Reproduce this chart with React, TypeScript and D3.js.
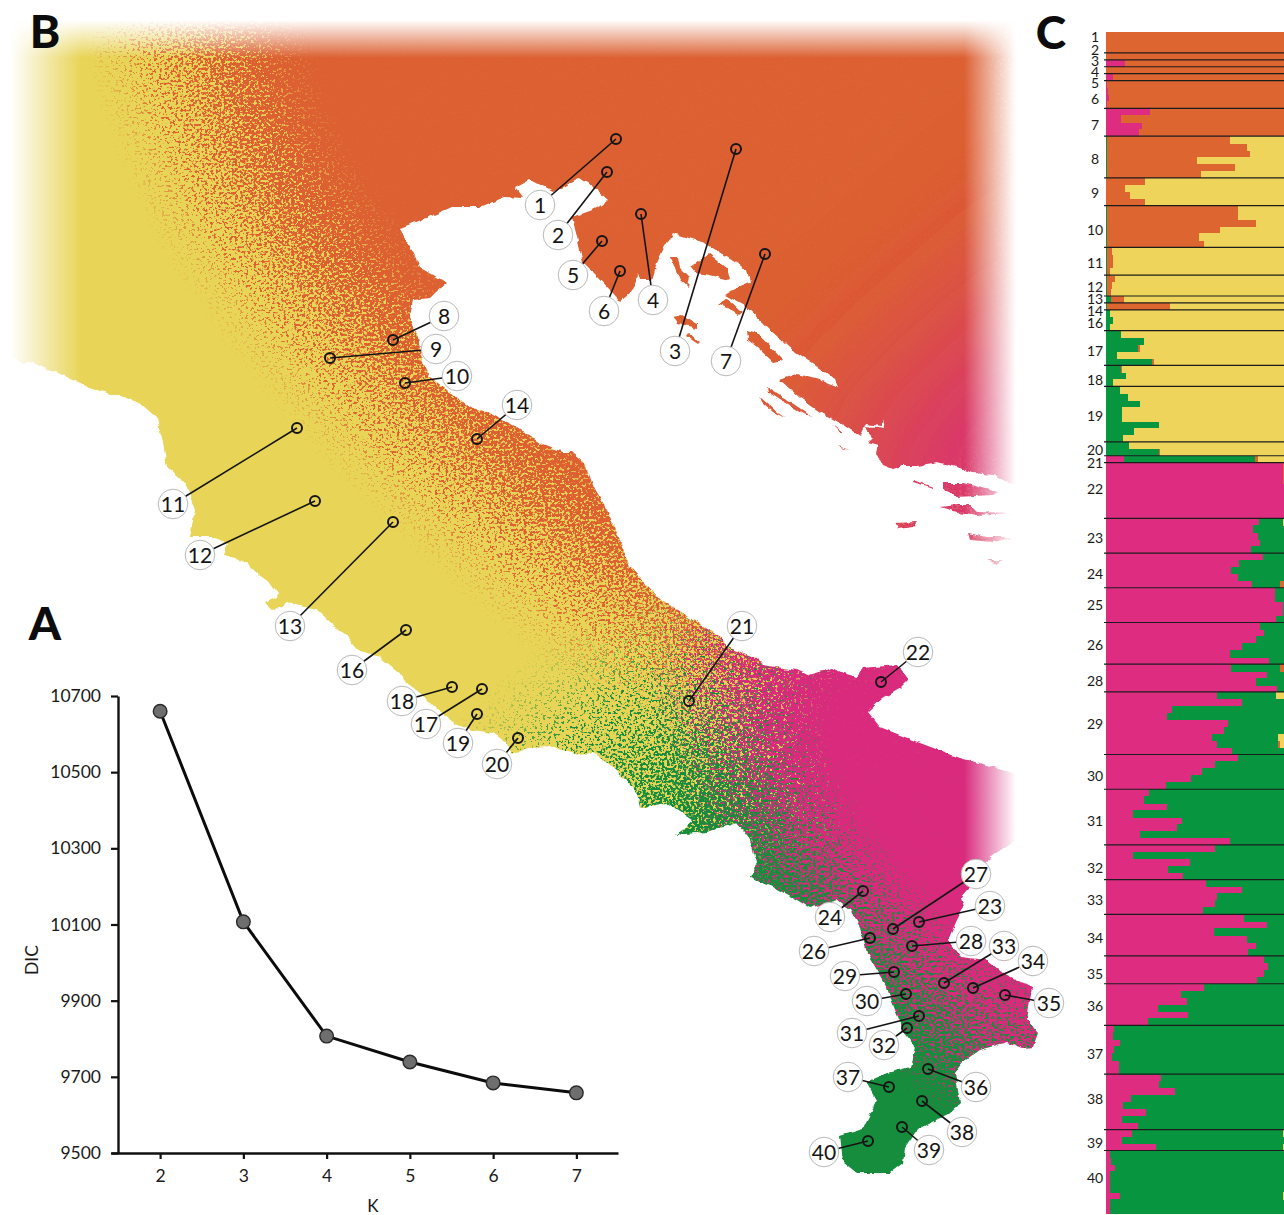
import React, { useEffect, useRef } from 'react';
import * as d3 from 'd3';

const W = 1284, H = 1215;
const FONT = 'Lato, "Open Sans", sans-serif';

// Panel A
const kValues = [2, 3, 4, 5, 6, 7];
const dicValues = [10660, 10107, 9807, 9739, 9684, 9658];
const dicTicks = [9500, 9700, 9900, 10100, 10300, 10500, 10700];

// Panel C: percent per individual, grouped by population. Yellow is what remains.
const popLabels = [1, 2, 3, 4, 5, 6, 7, 8, 9, 10, 11, 12, 13, 14, 16, 17, 18, 19, 20, 21, 22, 23, 24, 25, 26, 28, 29, 30, 31, 32, 33, 34, 35, 36, 37, 38, 39, 40];
const popLabelY = [37, 50, 61, 72, 83, 99, 125, 159, 193, 230, 263, 287, 299, 311, 323, 351, 380, 416, 450, 463, 489, 538, 574, 605, 645, 681, 724, 776, 821, 868, 900, 938, 974, 1006, 1054, 1099, 1143, 1178];
const magentaByPop = [
  [0, 0, 0], [0], [10.5], [0], [4], [.5, 1, 1.7, .5], [24.5, 8.6, 20, 18.7],
  [0, 0, 0, 0, 0, 0], [0, 0, 0, 0], [0, 0, 0, 0, 0, 0], [0, 0, 0, 0], [0, 0, 0], [0], [0], [0, 0, 0],
  [0, 0, 0, 0, 0], [0, 0, 0], [0, 0, 0, 0, 0, 0, 0, 0], [0, 0], [10],
  [99, 99, 99, 99.5, 99.5, 99.5, 100, 100], [85.6, 82, 85, 86.3, 81], [87.8, 74.3, 70, 74, 81.6],
  [94.4, 94.4, 99, 99, 95], [86, 88.4, 83.7, 75.7, 69.5, 91], [70, 90, 84, 95.5],
  [62, 76, 37, 34, 68, 66, 59.4, 62, 70.6], [73.6, 61, 53.6, 47.6, 33.5],
  [24, 21.3, 34, 15, 42.5, 39.5, 19, 69], [61, 15, 46.8, 34.5, 43], [56, 75.7, 62, 61, 54],
  [77, 90, 60.5, 79, 84, 79.4], [88, 90.4, 88, 84.5], [54.5, 42, 45.5, 29, 45.8, 23.6],
  [4.7, 4, 8, 4.5, 3.6, 7, 7.3], [31, 29.6, 38.4, 14, 9.4, 22.3, 9, 17.6], [14.8, 9, 28],
  [2.4, 2.6, 5, 2.4, 2.2, 2.2, 8, 2.2, 2],
];
const greenByPop = [
  [0, 0, 0], [0], [0], [0], [0], [0, 0, 0, 0], [0, 0, 0, 0],
  [.5, .5, .5, .5, .5, .5], [0, 0, 0, 0], [.5, .5, .5, .5, .5, .5], [.7, .5, .5, .5], [.5, .5, .5], [3], [.5], [2, 3.7, 2],
  [8.6, 21.5, 18, 6, 25.6], [8.6, 11.4, 4], [7.7, 12.4, 19, 9, 9, 29.6, 15.7, 9.7], [13, 29.5], [73],
  [0, 0, 0, 0, 0, 0, 0, 0], [13.4, 18, 15, 13.7, 19], [12.2, 25.7, 30, 26, 15.4],
  [5.6, 5.6, 1, 1, 5], [14, 11.6, 16.3, 24.3, 30.5, 9], [27, 10, 16, 4.5],
  [32.8, 24, 63, 66, 32, 34, 36.6, 34, 29.4], [26.4, 39, 46.4, 52.4, 66.5],
  [76, 78.7, 66, 85, 57.5, 60.5, 81, 31], [39, 85, 53.2, 65.5, 57], [44, 24.3, 38, 39, 46],
  [23, 10, 39.5, 21, 16, 20.6], [12, 9.6, 12, 15.5], [45.5, 58, 54.5, 71, 54.2, 76.4],
  [95.3, 96, 92, 95.5, 96.4, 93, 92.7], [69, 70.4, 61.6, 86, 90.6, 77.7, 91, 82.4], [84.2, 91, 71],
  [97.6, 97.4, 94.5, 97.6, 97.8, 97.8, 91, 97.8, 98],
];
const orangeByPop = [
  [100, 100, 100], [100], [89.5], [100], [96], [99.5, 99, 98.3, 99.5], [75.5, 91.4, 80, 81.3],
  [68.5, 78.5, 80, 50.5, 71.5, 52.5], [22, 10.7, 13.3, 22], [73.5, 73.5, 83.5, 63, 51.5, 54.5], [2.7, 3.5, 3.5, 1.5], [4.5, 2.9, 2.5], [7], [35.5], [0, 0, 0],
  [0, 0, 1, 0, 1], [.5, 0, 0], [0, 0, 0, 0, 0, 0, 0, 0], [0, .5], [2],
  [1, 1, 1, .5, .5, .5, 0, 0], [0, 0, 0, 0, 0], [0, 0, 0, 0, 3],
  [0, 0, 0, 0, 0], [0, 0, 0, 0, 0, 0], [3, 0, 0, 0],
  [0, 0, 0, 0, 0, 0, 0, 1, 0], [0, 0, 0, 0, 0],
  [0, 0, 0, 0, 0, 0, 0, 0], [0, 0, 0, 0, 0], [0, 0, 0, 0, 0],
  [0, 0, 0, 0, 0, 0], [0, 0, 0, 0], [0, 0, 0, 0, 0, 0],
  [0, 0, 0, 0, 0, 0, 0], [0, 0, 0, 0, 0, 0, 0, 0], [0, 0, 0],
  [0, 0, 0, 0, 0, 0, 0, 0, 0],
];

// Panel B: sampling sites and where their number sits
const siteLabels = [1, 2, 3, 4, 5, 6, 7, 8, 9, 10, 11, 12, 13, 14, 16, 17, 18, 19, 20, 21, 22, 23, 24, 26, 27, 28, 29, 30, 31, 32, 33, 34, 35, 36, 37, 38, 39, 40];
const sitePoints = [[616, 139], [607, 172], [736, 149], [641, 214], [602, 241], [620, 271], [765, 254], [393, 340], [330, 358], [405, 383], [297, 428], [315, 501], [393, 522], [477, 439], [406, 630], [482, 689], [452, 687], [477, 714], [518, 738], [689, 701], [881, 682], [919, 922], [863, 891], [870, 938], [893, 929], [912, 946], [894, 972], [906, 994], [919, 1016], [907, 1028], [944, 983], [973, 988], [1005, 995], [928, 1069], [889, 1087], [922, 1101], [902, 1127], [868, 1141]];
const labelPoints = [[540, 205], [558, 235], [675, 351], [653, 300], [573, 275], [604, 311], [726, 361], [444, 316], [436, 349], [457, 376], [173, 504], [200, 555], [290, 626], [517, 405], [352, 670], [426, 724], [402, 701], [458, 743], [497, 764], [742, 626], [918, 652], [990, 906], [830, 917], [814, 951], [976, 874], [971, 941], [845, 976], [867, 1001], [852, 1033], [884, 1045], [1004, 946], [1033, 961], [1049, 1003], [976, 1087], [848, 1077], [962, 1132], [929, 1150], [824, 1152]];

// Panel B: coast outline
const coast = [
  [0, 10], [1030, 10], [1030, 490], [1017, 487], [993, 475], [973, 473], [957, 467], [937, 462], [917, 466], [903, 466], [893, 469], [883, 465], [877, 453], [879, 445], [868, 442], [873, 437], [864, 427], [877, 428], [885, 429], [883, 418], [881, 426], [866, 424], [860, 436], [840, 423], [820, 412], [800, 398], [780, 380],
  [797, 374], [820, 380], [838, 387], [835, 380], [825, 372], [795, 352], [770, 330], [745, 306], [725, 295], [733, 290], [750, 283], [747, 270], [705, 243], [673, 233], [663, 250], [657, 263], [652, 280], [640, 280], [638, 273], [636, 285], [630, 293], [620, 302], [612, 293], [597, 277], [583, 263], [577, 237], [572, 217], [597, 208], [608, 200], [597, 190], [580, 178], [553, 192], [530, 180], [515, 188], [523, 198], [505, 197], [480, 207], [452, 207], [427, 218], [400, 228], [405, 240], [413, 252], [420, 267], [447, 283], [435, 293], [430, 298], [413, 300], [410, 317], [418, 337], [422, 360], [430, 377], [443, 387], [470, 407], [490, 413], [513, 425], [540, 443], [563, 452], [572, 452], [585, 463], [593, 485], [607, 510], [617, 533], [630, 567], [657, 597], [683, 613], [720, 637],
  [730, 648], [757, 658], [762, 665], [797, 670], [808, 675], [833, 668], [843, 673], [857, 677], [863, 668], [897, 665], [908, 680], [900, 688], [883, 698], [868, 712], [880, 727], [920, 743], [960, 758], [1017, 773], [1030, 778], [1030, 838], [1016, 840], [993, 855], [973, 883], [960, 898], [963, 908], [957, 920], [948, 940], [960, 957], [987, 960], [1003, 973], [1032, 987], [1027, 1020], [1038, 1033], [1033, 1047], [1023, 1048], [1007, 1042], [980, 1050], [963, 1062], [955, 1072], [960, 1103], [947, 1115], [917, 1130], [905, 1147], [903, 1163], [890, 1173], [857, 1173], [843, 1162], [840, 1135], [863, 1128], [877, 1100], [867, 1082], [887, 1073], [910, 1067], [915, 1047], [905, 1033], [895, 1010], [887, 987], [867, 953], [860, 927], [850, 910], [837, 900], [810, 908], [797, 900], [773, 887], [750, 878], [757, 863],
  [750, 840], [737, 823], [707, 832], [675, 835], [693, 820], [667, 803], [640, 808], [637, 793], [617, 770], [593, 753], [577, 755], [553, 747], [527, 748], [513, 755], [507, 743], [493, 733], [473, 730], [457, 725], [437, 710], [420, 693], [407, 683], [400, 673], [380, 657], [360, 652], [347, 637], [317, 610], [287, 603], [273, 610], [265, 603], [277, 597], [278, 593], [270, 582], [257, 573], [243, 560], [223, 555], [227, 543], [213, 537], [190, 537], [195, 510], [185, 483], [167, 467], [163, 443], [157, 418], [140, 403], [123, 397], [107, 393], [90, 388], [67, 377], [33, 362], [23, 363], [10, 355], [0, 350],
];
const islands = [
  [[670, 257], [678, 257], [680, 267], [690, 277], [688, 287], [680, 280], [675, 268]],
  [[690, 267], [708, 253], [727, 268], [730, 280], [710, 275], [695, 273]],
  [[673, 317], [682, 315], [697, 323], [697, 328], [685, 325], [677, 323]],
  [[688, 333], [700, 342], [698, 344], [686, 336]],
  [[718, 305], [727, 298], [742, 312], [738, 315], [727, 308]],
  [[747, 330], [757, 333], [783, 360], [773, 362], [757, 347], [748, 340]],
  [[767, 387], [783, 397], [813, 417], [803, 413], [780, 400], [768, 392]],
  [[760, 397], [777, 412], [785, 418], [773, 412], [762, 402]],
  [[832, 425], [843, 433], [840, 433]],
  [[837, 446], [850, 450], [840, 448]],
  [[913, 480], [933, 487], [933, 488], [913, 482]],
  [[943, 483], [963, 483], [998, 492], [993, 495], [957, 497], [943, 490]],
  [[940, 507], [957, 505], [970, 505], [977, 512], [1013, 513], [977, 515], [957, 512]],
  [[895, 523], [917, 522], [913, 527], [898, 529]],
  [[968, 533], [987, 537], [1017, 537], [993, 542], [970, 540]],
  [[987, 560], [1003, 560], [997, 564]],
];

// Panel B: rough extent of each ancestry, blurred and dithered when drawn
const greenZone = [[520, 860], [620, 770], [720, 690], [1300, 650], [1300, 1500], [480, 1500], [480, 1000]];
const orangeZone = [[150, -120], [1100, -120], [1100, 520], [720, 650], [640, 620], [620, 600], [510, 500], [400, 400], [240, 200], [190, 60]];
const magentaZone = [[700, 590], [1120, 600], [1120, 1130], [1000, 1075], [970, 1050], [890, 960], [800, 880], [750, 780], [720, 680]];
const northEastZone = [[1150, 190], [1150, 640], [850, 560], [820, 480]];

const COLORS = { orange: '#dc6030', yellow: '#e8d456', magenta: '#d92b7d', green: '#128c3c' };
const BAR_COLORS = { magenta: '#de2c80', green: '#07963f', orange: '#dd6530', yellow: '#eed45a' };

const line = d3.line();

function Dither({ id, color, seed, blur }) {
  return (
    <filter id={id} x="-300" y="-300" width="1640" height="1815" filterUnits="userSpaceOnUse" colorInterpolationFilters="sRGB">
      <feGaussianBlur in="SourceAlpha" stdDeviation={blur} />
      <feComponentTransfer result="soft">
        <feFuncA type="linear" slope="1.2" intercept="-0.1" />
      </feComponentTransfer>
      <feTurbulence type="fractalNoise" baseFrequency="0.37 0.41" numOctaves="3" seed={seed} />
      <feColorMatrix type="matrix" values="0 0 0 0 0  0 0 0 0 0  0 0 0 0 0  3.2 0 0 0 -1.1" result="grain" />
      <feComposite in="soft" in2="grain" operator="arithmetic" k1="0" k2="1.3" k3="1" k4="-1.02" />
      <feComponentTransfer result="mask">
        <feFuncA type="linear" slope="3.5" />
      </feComponentTransfer>
      <feFlood floodColor={color} />
      <feComposite in2="mask" operator="in" />
    </filter>
  );
}

function MapPanel() {
  const xy = d3.scaleIdentity();
  return (
    <g>
      <defs>
        <filter id="roughCoast" x="-20" y="-20" width="1100" height="1260" filterUnits="userSpaceOnUse">
          <feTurbulence type="fractalNoise" baseFrequency="0.12" numOctaves="2" seed="5" />
          <feDisplacementMap in="SourceGraphic" scale="5" xChannelSelector="R" yChannelSelector="G" />
        </filter>
        <mask id="land" maskUnits="userSpaceOnUse" x="-20" y="-20" width="1100" height="1260">
          <g fill="#fff" filter="url(#roughCoast)">
            <path d={line(coast) + 'Z'} />
            {islands.map((d, i) => <path key={i} d={line(d) + 'Z'} />)}
          </g>
        </mask>
        <Dither id="ditherGreen" color={COLORS.green} seed={3} blur={130} />
        <Dither id="ditherOrange" color={COLORS.orange} seed={11} blur={85} />
        <Dither id="ditherMagenta" color={COLORS.magenta} seed={23} blur={65} />
        <filter id="softNE" x="0" y="0" width="1240" height={H} filterUnits="userSpaceOnUse">
          <feGaussianBlur stdDeviation="85" />
        </filter>
        <filter id="grainSoften" x="0" y="0" width="1040" height={H} filterUnits="userSpaceOnUse">
          <feGaussianBlur stdDeviation="0.7" />
        </filter>
        <linearGradient id="fadeLeft" x1="0" x2="1" y1="0" y2="0">
          <stop offset="0" stopColor="#fff" stopOpacity="1" />
          <stop offset="1" stopColor="#fff" stopOpacity="0" />
        </linearGradient>
        <linearGradient id="fadeRight" x1="0" x2="1" y1="0" y2="0">
          <stop offset="0" stopColor="#fff" stopOpacity="0" />
          <stop offset="1" stopColor="#fff" stopOpacity="1" />
        </linearGradient>
        <linearGradient id="fadeTop" x1="0" x2="0" y1="0" y2="1">
          <stop offset="0" stopColor="#fff" stopOpacity="1" />
          <stop offset="1" stopColor="#fff" stopOpacity="0" />
        </linearGradient>
      </defs>
      <g mask="url(#land)">
        <g filter="url(#grainSoften)">
          <rect x="0" y="0" width="1040" height={H} fill={COLORS.yellow} />
          <path d={line(greenZone) + 'Z'} fill={COLORS.green} filter="url(#ditherGreen)" />
          <path d={line(orangeZone) + 'Z'} fill={COLORS.orange} filter="url(#ditherOrange)" />
          <path d={line(northEastZone) + 'Z'} fill={COLORS.magenta} filter="url(#softNE)" />
          <path d={line(magentaZone) + 'Z'} fill={COLORS.magenta} filter="url(#ditherMagenta)" />
        </g>
        <rect x="0" y="0" width="10" height={H} fill="#fff" />
        <rect x="10" y="0" width="72" height="400" fill="url(#fadeLeft)" />
        <rect x="0" y="0" width="1040" height="20" fill="#fff" />
        <rect x="0" y="20" width="1040" height="38" fill="url(#fadeTop)" />
        <rect x="964" y="0" width="52" height="865" fill="url(#fadeRight)" />
        <rect x="1016" y="0" width="30" height="865" fill="#fff" />
      </g>
      {siteLabels.map((label, i) => {
        const [mx, my] = sitePoints[i];
        const [lx, ly] = labelPoints[i];
        return (
          <g key={label}>
            <line x1={xy(mx)} y1={xy(my)} x2={xy(lx)} y2={xy(ly)} stroke="#151515" strokeWidth="1.6" />
            <circle cx={xy(mx)} cy={xy(my)} r="5" fill="none" stroke="#151515" strokeWidth="2" />
            <circle cx={xy(lx)} cy={xy(ly)} r="14.8" fill="#fff" stroke="#b9b9b9" strokeWidth="1" />
            <text x={xy(lx)} y={xy(ly)} dy="0.36em" textAnchor="middle" fontSize="21" fontFamily={FONT} fill="#151515">{label}</text>
          </g>
        );
      })}
    </g>
  );
}

function DicPanel() {
  const xAxisRef = useRef(null);
  const yAxisRef = useRef(null);
  const x = d3.scaleLinear().domain([1.41, 7.5]).range([111, 618]);
  const y = d3.scaleLinear().domain([9500, 10700]).range([1153, 696]);
  const dicLine = d3.line().x((d) => x(d[0])).y((d) => y(d[1]));
  const points = kValues.map((k, i) => [k, dicValues[i]]);

  useEffect(() => {
    const style = (sel) => {
      sel.selectAll('path').attr('stroke', '#111').attr('stroke-width', 2.4);
      sel.selectAll('line').attr('stroke', '#111').attr('stroke-width', 2.2);
      sel.selectAll('text').attr('fill', '#1a1a1a').attr('font-size', 17.5).attr('font-family', FONT);
    };
    d3.select(xAxisRef.current).call(d3.axisBottom(x).tickValues(kValues).tickFormat(d3.format('d')).tickSize(6).tickSizeOuter(0).tickPadding(11)).call(style);
    d3.select(yAxisRef.current).call(d3.axisLeft(y).tickValues(dicTicks).tickFormat(d3.format('d')).tickSize(7).tickSizeOuter(0).tickPadding(10)).call(style);
  }, []);

  return (
    <g>
      <g ref={xAxisRef} transform="translate(0,1153)" />
      <g ref={yAxisRef} transform="translate(118,0)" />
      <path d={dicLine(points)} fill="none" stroke="#0c0c0c" strokeWidth="3" />
      {points.map((d) => (
        <circle key={d[0]} cx={x(d[0])} cy={y(d[1])} r="6.8" fill="#6e6e6e" stroke="#2a2a2a" strokeWidth="1.4" />
      ))}
      <text x="373" y="1212" textAnchor="middle" fontSize="17" fontFamily={FONT} fill="#1a1a1a">K</text>
      <text transform="translate(38,960) rotate(-90)" textAnchor="middle" fontSize="17.5" fontFamily={FONT} fill="#1a1a1a">DIC</text>
    </g>
  );
}

function StructurePanel() {
  const magenta = magentaByPop.flat();
  const green = greenByPop.flat();
  const orange = orangeByPop.flat();
  const rows = magenta.map((m, i) => ({
    id: i,
    magenta: m,
    green: green[i],
    orange: orange[i],
    yellow: Math.max(0, 100 - m - green[i] - orange[i]),
  }));
  const x = d3.scaleLinear().domain([0, 100]).range([1106, 1285]);
  const y = d3.scaleBand().domain(rows.map((d) => d.id)).range([32, 1213]);
  const layers = d3.stack().keys(['magenta', 'green', 'orange', 'yellow'])(rows);
  const ends = d3.cumsum(magentaByPop.map((p) => p.length));

  return (
    <g>
      {layers.map((layer) => (
        <g key={layer.key} fill={BAR_COLORS[layer.key]} shapeRendering="crispEdges">
          {layer.filter((d) => d[1] > d[0]).map((d) => (
            <rect key={d.data.id} x={x(d[0])} y={y(d.data.id)} width={x(d[1]) - x(d[0])} height={y.bandwidth() + 0.5} />
          ))}
        </g>
      ))}
      {Array.from(ends).slice(0, -1).map((end) => (
        <line key={end} x1="1104" x2={W} y1={y(end)} y2={y(end)} stroke="#1c1c1c" strokeWidth="1.2" />
      ))}
      {popLabels.map((label, i) => (
        <text key={label} x="1095" y={popLabelY[i]} dy="0.36em" textAnchor="middle" fontSize="14" fontFamily={FONT} fill="#1a1a1a">{label}</text>
      ))}
    </g>
  );
}

export default function App() {
  return (
    <svg width={W} height={H} viewBox={`0 0 ${W} ${H}`} style={{ position: 'absolute', left: 0, top: 0, display: 'block', background: '#fff' }}>
      <MapPanel />
      <DicPanel />
      <StructurePanel />
      <g fontFamily={FONT} fontWeight="900" fontSize="46" fill="#0c0c0c" textAnchor="middle">
        <text x="45" y="48">B</text>
        <text x="45" y="640">A</text>
        <text x="1051" y="49">C</text>
      </g>
    </svg>
  );
}
